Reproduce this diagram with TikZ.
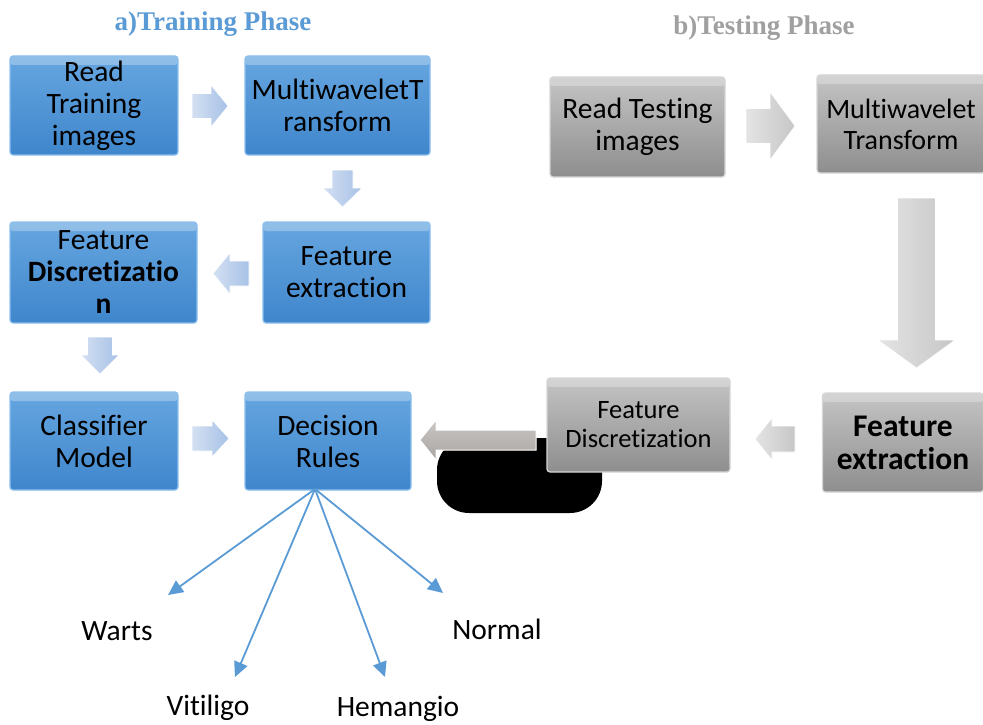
\documentclass[tikz,border=0pt]{standalone}
\usepackage{fontspec}
\setmainfont{Carlito}[Ligatures=NoCommon]
\newfontfamily\timesf{Liberation Serif}
\usetikzlibrary{arrows.meta}
\definecolor{bluetop}{HTML}{66A6E0}
\definecolor{bluebot}{HTML}{3F86CC}
\definecolor{blueedge}{HTML}{8CC0EE}
\definecolor{graytop}{HTML}{C4C4C4}
\definecolor{graybot}{HTML}{8E8E8E}
\definecolor{grayedge}{HTML}{D6D6D6}
\definecolor{fanblue}{HTML}{5B9BD5}
\definecolor{titleblue}{HTML}{5B9BD5}
\definecolor{titlegray}{HTML}{A0A0A0}
\definecolor{parrowA}{HTML}{D3E0F2}
\definecolor{parrowB}{HTML}{A7C1E6}
\definecolor{garrowA}{HTML}{E4E4E4}
\definecolor{garrowB}{HTML}{C6C6C6}
\definecolor{C9C6C3}{HTML}{C9C6C3}
\definecolor{A9A5A2}{HTML}{A9A5A2}
\newcommand{\blockarrow}[8]{%
  \begin{scope}[shift={(#1,#2)},rotate=#3]
    \path[#8] ({-#4/2},{-#5}) -- ({#4/2-#7},{-#5}) -- ({#4/2-#7},{-#6}) -- ({#4/2},0)
      -- ({#4/2-#7},{#6}) -- ({#4/2-#7},{#5}) -- ({-#4/2},{#5}) -- cycle;
  \end{scope}}
\tikzset{
  boxbase/.style={rectangle, rounded corners=3pt, line width=1.2pt, align=center,
    inner sep=0pt, font=\fontsize{29.5}{32}\selectfont,
    path picture={\fill[white,opacity=0.28] (path picture bounding box.north west)
      rectangle ([yshift=-9pt]path picture bounding box.north east);}},
  bluebox/.style={boxbase, top color=bluetop, bottom color=bluebot, draw=blueedge},
  graybox/.style={boxbase, top color=graytop, bottom color=graybot, draw=grayedge},
  lbl/.style={font=\fontsize{29.5}{32}\selectfont, inner sep=0pt},
  fan/.style={draw=fanblue, line width=1.8pt, -{Triangle[length=15pt,width=14pt]}},
  palearrow/.style={left color=parrowA, right color=parrowB, draw=white, line width=0.6pt},
  grayarrow/.style={left color=garrowA, right color=garrowB, draw=white, line width=0.6pt},
  darkarrow/.style={top color=C9C6C3, bottom color=A9A5A2, draw=white, line width=1pt},
  blob/.style={fill=black, rounded corners=32pt},
  ttl/.style={font=\timesf\bfseries\fontsize{27}{30}\selectfont, inner sep=0pt}
}
\begin{document}
\begin{tikzpicture}[x=1pt,y=-1pt]
\path[use as bounding box, fill=white] (0,0) rectangle (983,725);

% titles
\node[ttl, text=titleblue] (ta) at (213,24) {a)Training Phase};
\node[ttl, text=titlegray] (tb) at (764,28) {b)Testing Phase};

% training boxes
\node[bluebox, minimum width=168pt, minimum height=99pt] (rt) at (94,105.5) {Read\\Training\\images};
\node[bluebox, minimum width=185pt, minimum height=99pt] (mt) at (337.5,105.5) {MultiwaveletT\\ransform};
\node[bluebox, minimum width=187pt, minimum height=101pt] (fd) at (103.5,272.5) {Feature\\\textbf{Discretizatio}\\\textbf{n}};
\node[bluebox, minimum width=167pt, minimum height=101pt] (fe) at (346.5,272.5) {Feature\\extraction};
\node[bluebox, minimum width=168pt, minimum height=98pt] (cm) at (94,441) {Classifier\\Model};
\node[bluebox, minimum width=166pt, minimum height=98pt] (dr) at (328,441) {Decision\\Rules};

% training block arrows
\blockarrow{210}{106}{0}{36}{12.5}{21}{17}{palearrow}
\blockarrow{342.5}{188.5}{-90}{37}{10.5}{19.5}{19}{palearrow}
\blockarrow{231}{273.5}{180}{36}{12.5}{20.5}{17}{palearrow}
\blockarrow{100}{355.5}{-90}{37}{12.5}{19}{19}{palearrow}
\blockarrow{210.5}{438.5}{0}{37}{12.5}{18.5}{17}{palearrow}

% black blob, long arrow
\path[blob] (437,438) rectangle (602,513);
\blockarrow{478}{440}{180}{116}{10}{20}{16}{darkarrow}

% testing boxes
\node[graybox, minimum width=175pt, minimum height=100pt] (rtt) at (637.5,127) {Read Testing\\images};
\node[graybox, minimum width=168pt, minimum height=98pt, font=\fontsize{28}{31}\selectfont] (mwt) at (901,124) {Multiwavelet\\Transform};
\node[graybox, minimum width=161pt, minimum height=99pt, font=\bfseries\fontsize{31.5}{33}\selectfont] (gfe) at (903,442.5) {Feature\\extraction};
\node[graybox, minimum width=183pt, minimum height=94pt, font=\fontsize{26.5}{29}\selectfont] (gfd) at (638.5,425) {Feature\\Discretization};

% testing block arrows
\blockarrow{770.5}{126}{0}{49}{17.5}{34}{25}{grayarrow}
\blockarrow{916.5}{283}{-90}{170}{19}{38.5}{28}{grayarrow}
\blockarrow{775}{439}{180}{40}{13}{21}{17}{grayarrow}

% fan
\coordinate (fo) at (315,489);
\coordinate (pw) at (168,595);
\coordinate (pv) at (235,677);
\coordinate (ph) at (385,677);
\coordinate (pn) at (443,593);
\draw[fan] (fo) -- (pw);
\draw[fan] (fo) -- (pv);
\draw[fan] (fo) -- (ph);
\draw[fan] (fo) -- (pn);

\node[lbl] (lw) at (117,631) {Warts};
\node[lbl] (lv) at (208,708) {Vitiligo};
\node[lbl] (lh) at (398,709) {Hemangio};
\node[lbl] (ln) at (497,629) {Normal};
\end{tikzpicture}
\end{document}
